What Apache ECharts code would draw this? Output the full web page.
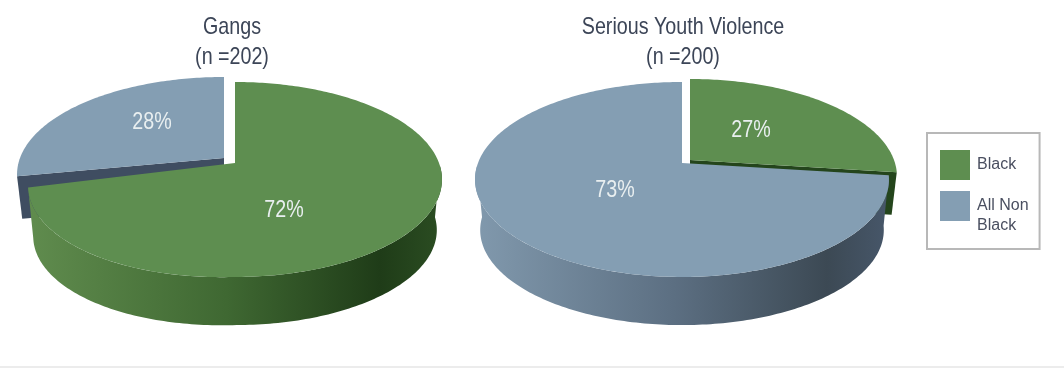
<!DOCTYPE html>
<html>
<head>
<meta charset="utf-8">
<style>
    html, body { margin: 0; padding: 0; background: #fff; }
    #chart { width: 1064px; height: 368px; }
</style>
<script src="https://cdn.jsdelivr.net/npm/echarts@6/dist/echarts.min.js"></script>
</head>
<body>
<div id="chart"></div>
<script>
let pieNames = ['Gangs', 'Serious Youth Violence'];
let pieCounts = ['(n =202)', '(n =200)'];
let legendNames = ['Black', 'All Non Black'];
let blackValues = [72, 27];
let nonBlackValues = [28, 73];

let fontName = '"Liberation Sans", Arial, sans-serif';
let narrow = 0.82;

// pie centre on the top face, and where each slice moves to when pulled out
let pieCentres = [[235, 163], [682, 163]];
let pullOut = [[-11, -5], [8, -3]];
let titleX = [232, 683];
let blackLabels = [[284, 210], [751, 130]];
let nonBlackLabels = [[152, 122], [615, 190]];

// tilted circle, the far side comes out smaller than the near side
let radiusX = 204;
let radiusY = 94.7;
let tilt = 0.169;
let depth = 51;
let pulledDepth = 43;
let bottomScale = 0.975;
// left half of the big Gangs slice hangs a bit lower in the picture
let leftSag = [0.03, 0];

let styles = [
    {
        face: '#5e8e50',
        cut: '#24451c',
        wall: ['#608c4e', '#3f6832', '#1f3c18', '#2b4d22']
    },
    {
        face: '#849eb3',
        cut: '#3f4d61',
        wall: ['#8199ad', '#5c6f82', '#3c4954', '#47576a']
    }
];

function project(c, angle, scale) {
    let rad = angle * Math.PI / 180;
    let w = 1 + tilt * Math.cos(rad);
    let x = c[0] + scale * radiusX * Math.sin(rad) / w;
    let y = c[1] - scale * radiusY * Math.cos(rad) / w;
    if (c[2] && x < c[0]) {
        y += c[2] * (c[0] - x);
    }
    return [x, y];
}

function arc(c, from, to, scale) {
    let pts = [];
    let steps = Math.max(1, Math.ceil(Math.abs(to - from)));
    for (let i = 0; i <= steps; i++) {
        pts.push(project(c, from + (to - from) * i / steps, scale));
    }
    return pts;
}

function sliceRenderer(styleIndex, labels, fromTop) {
    return function (params, api) {
        let i = params.dataIndex;
        let value = api.value(0);
        let start = fromTop ? 0 : (100 - value) * 3.6;
        let end = fromTop ? value * 3.6 : 360;
        let pulled = value < 50;
        let c = pieCentres[i].slice();
        if (pulled) {
            c[0] += pullOut[i][0];
            c[1] += pullOut[i][1];
        } else if (fromTop) {
            c.push(leftSag[i]);
        }
        let st = styles[styleIndex];
        let children = [];

        // side wall, only the near half of the rim shows
        let wallFrom = Math.max(start, 92);
        let wallTo = Math.min(end, 268);
        if (wallTo > wallFrom && !pulled) {
            let below = [c[0], c[1] + depth, c[2]];
            let wallPts = arc(c, wallFrom, wallTo, 1).concat(arc(below, wallTo, wallFrom, bottomScale));
            children.push({
                type: 'polygon',
                z2: 1,
                shape: { points: wallPts },
                style: {
                    fill: new echarts.graphic.LinearGradient(0, 0, 1, 0, [
                        { offset: 0, color: st.wall[0] },
                        { offset: 0.48, color: st.wall[1] },
                        { offset: 0.85, color: st.wall[2] },
                        { offset: 1, color: st.wall[3] }
                    ])
                }
            });
        }

        // cut face of the pulled out slice
        if (pulled) {
            let cutAngle = fromTop ? end : start;
            let tip = project(c, cutAngle, 1);
            let tipLow = project([c[0], c[1] + pulledDepth], cutAngle, bottomScale);
            children.push({
                type: 'polygon',
                z2: 0,
                shape: { points: [c, tip, tipLow, [c[0], c[1] + pulledDepth]] },
                style: { fill: st.cut }
            });
        }

        children.push({
            type: 'polygon',
            z2: pulled ? 0 : 2,
            shape: { points: [c].concat(arc(c, start, end, 1)) },
            style: { fill: st.face }
        });

        children.push({
            type: 'text',
            z2: 5,
            x: labels[i][0],
            y: labels[i][1],
            scaleX: narrow,
            style: {
                text: value + '%',
                fill: '#e9eff0',
                font: '24px ' + fontName,
                align: 'center',
                verticalAlign: 'middle'
            }
        });

        return { type: 'group', children: children };
    };
}

// titles as graphic text, the title component can't squeeze the letters
let titleTexts = [];
pieNames.forEach(function (name, i) {
    [name, pieCounts[i]].forEach(function (line, j) {
        titleTexts.push({
            type: 'text',
            x: titleX[i],
            y: 27 + j * 30,
            scaleX: narrow,
            style: {
                text: line,
                fill: '#3c4557',
                font: '24px ' + fontName,
                textAlign: 'center',
                textVerticalAlign: 'middle'
            }
        });
    });
});

let chart = echarts.init(document.getElementById('chart'));

let option = {
    animation: false,
    backgroundColor: '#fff',
    legend: {
        orient: 'vertical',
        left: 927,
        top: 133,
        padding: [17, 11, 13, 13],
        itemWidth: 30,
        itemHeight: 30,
        itemGap: -4,
        borderColor: '#b8b8b8',
        borderWidth: 2,
        data: [
            { name: legendNames[0], icon: 'rect', textStyle: { padding: [0, 0, 4, 2] } },
            { name: legendNames[1], icon: 'rect', textStyle: { padding: [0, 0, 0, 2] } }
        ],
        // empty first line pushes the two lines below the swatch centre
        formatter: function (name) {
            return name == 'All Non Black' ? '\nAll Non\nBlack' : name;
        },
        textStyle: {
            fontFamily: fontName,
            fontSize: 16,
            lineHeight: 20,
            color: '#4a4f60'
        }
    },
    graphic: titleTexts.concat([
        {
            type: 'rect',
            shape: { x: 0, y: 366, width: 1064, height: 2 },
            style: { fill: '#ececec' }
        }
    ]),
    series: [
        {
            type: 'custom',
            name: legendNames[1],
            coordinateSystem: 'none',
            itemStyle: { color: styles[1].face },
            renderItem: sliceRenderer(1, nonBlackLabels, false),
            data: nonBlackValues
        },
        {
            type: 'custom',
            name: legendNames[0],
            coordinateSystem: 'none',
            itemStyle: { color: styles[0].face },
            renderItem: sliceRenderer(0, blackLabels, true),
            data: blackValues
        }
    ]
};

chart.setOption(option);
</script>
</body>
</html>
